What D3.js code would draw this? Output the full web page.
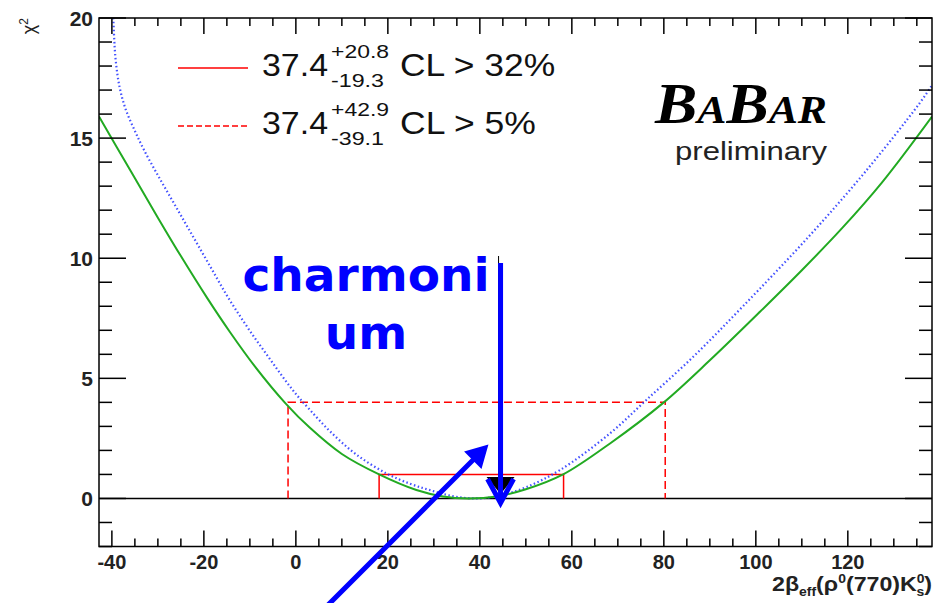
<!DOCTYPE html>
<html>
<head>
<meta charset="utf-8">
<script src="https://cdn.jsdelivr.net/npm/d3@7"></script>
<style>
  body { margin: 0; background: #fff; }
  svg { display: block; }
</style>
</head>
<body>
<div id="chart"></div>
<script>
// chi2 scan curves
const greenX = [-42.8, -36, -30, -25, -19.3, -14.3, -9, -2.2, 3, 10, 18.1, 26.2, 32, 37.4, 43.6, 50, 58.1, 68.3, 80, 90, 100.9, 110, 118.7, 127.4, 138.3]
const greenY = [15.9, 13.66, 11.69, 10.09, 8.35, 6.92, 5.52, 3.95, 2.95, 1.85, 1.0, 0.35, 0.08, 0, 0.08, 0.38, 1.0, 2.29, 4.0, 5.75, 7.77, 9.5, 11.24, 13.15, 15.9]
const blueX = [-40.1, -39.7, -39.2, -38.3, -37, -35, -33, -30, -27, -24, -21, -18, -15, -12, -9, -6, -3, 0, 3, 7.4, 13, 19.7, 25, 29.1, 34, 39, 44, 50.2, 57.4, 68.3, 76.2, 86.4, 97.2, 111.5, 123.8, 135.4, 138.3]
const blueY = [21.5, 20, 18.3, 17.1, 16.2, 15.3, 14.5, 13.45, 12.45, 11.45, 10.45, 9.45, 8.45, 7.55, 6.7, 5.9, 5.1, 4.35, 3.7, 2.8, 1.85, 1.04, 0.6, 0.35, 0.1, 0, 0.1, 0.48, 1.18, 2.71, 4.1, 5.9, 8.0, 10.9, 13.6, 16.4, 17.2]

// central value and intervals
const central = 37.4
const cl32 = { plus: 20.8, minus: 19.3, chi2: 1, label: "CL > 32%" }
const cl5 = { plus: 42.9, minus: 39.1, chi2: 4, label: "CL > 5%" }

const xMajor = [-40, -20, 0, 20, 40, 60, 80, 100, 120]
const yMajor = [0, 5, 10, 15, 20]

const width = 935, height = 603
const frame = { left: 99, right: 932, top: 18, bottom: 546.5 }
const sans = "'Liberation Sans', Arial, sans-serif"

const svg = d3.select("#chart").append("svg").attr("width", width).attr("height", height)
    .attr("font-family", sans)

const x = d3.scaleLinear().domain([-42.8, 138.3]).range([frame.left, frame.right])
const y = d3.scaleLinear().domain([-2, 20]).range([frame.bottom, frame.top])

svg.append("clipPath").attr("id", "clip").append("rect")
    .attr("x", frame.left).attr("y", frame.top)
    .attr("width", frame.right - frame.left).attr("height", frame.bottom - frame.top)

const plot = svg.append("g").attr("clip-path", "url(#clip)")

// zero line
plot.append("line")
    .attr("x1", frame.left).attr("x2", frame.right)
    .attr("y1", y(0)).attr("y2", y(0))
    .attr("stroke", "#000").attr("stroke-width", 1.5)

// interval boxes
function box(cl, dash) {
    var lo = central - cl.minus, hi = central + cl.plus
    plot.append("path")
        .attr("d", `M${x(lo)},${y(0)}V${y(cl.chi2)}H${x(hi)}V${y(0)}`)
        .attr("fill", "none").attr("stroke", "#ff0000").attr("stroke-width", 1.5)
        .attr("stroke-dasharray", dash)
}
box(cl5, "8,4")
box(cl32, null)

const line = d3.line().x(d => x(d[0])).y(d => y(d[1])).curve(d3.curveCatmullRom.alpha(0.5))

plot.append("path")
    .attr("d", line(blueX.map((v, i) => [v, blueY[i]])))
    .attr("fill", "none").attr("stroke", "#2233ff").attr("stroke-width", 2.2)
    .attr("stroke-dasharray", "1.5,2.5").attr("stroke-opacity", 0.85)

plot.append("path")
    .attr("d", line(greenX.map((v, i) => [v, greenY[i]])))
    .attr("fill", "none").attr("stroke", "#22aa22").attr("stroke-width", 2)

// axes (ticks on all four sides, pointing inwards)
const xMinor = d3.range(-40, 140, 5)
const yMinor = d3.range(-2, 21, 1)

const axes = svg.append("g").attr("stroke", "#000").attr("stroke-width", 1.5)
xMinor.forEach(v => {
    var len = xMajor.includes(v) ? 16 : 8
    axes.append("line").attr("x1", x(v)).attr("x2", x(v)).attr("y1", frame.bottom).attr("y2", frame.bottom - len)
    axes.append("line").attr("x1", x(v)).attr("x2", x(v)).attr("y1", frame.top).attr("y2", frame.top + len)
})
yMinor.forEach(v => {
    var len = yMajor.includes(v) ? 27 : 13
    axes.append("line").attr("y1", y(v)).attr("y2", y(v)).attr("x1", frame.left).attr("x2", frame.left + len)
    axes.append("line").attr("y1", y(v)).attr("y2", y(v)).attr("x1", frame.right).attr("x2", frame.right - len)
})
axes.append("rect")
    .attr("x", frame.left).attr("y", frame.top)
    .attr("width", frame.right - frame.left).attr("height", frame.bottom - frame.top)
    .attr("fill", "none")

svg.append("g").selectAll("text").data(xMajor).join("text")
    .attr("x", d => x(d)).attr("y", 569)
    .attr("text-anchor", "middle").attr("font-size", 20).attr("font-weight", "bold").attr("fill", "#222")
    .text(d => d)

svg.append("g").selectAll("text").data(yMajor).join("text")
    .attr("x", 93).attr("y", d => y(d) + 7.5)
    .attr("text-anchor", "end").attr("font-size", 21).attr("font-weight", "bold").attr("fill", "#222")
    .text(d => d)

// axis titles
const xt = svg.append("text").attr("x", 932).attr("y", 591)
    .attr("text-anchor", "end").attr("font-size", 20).attr("font-weight", "bold").attr("fill", "#222")
    .attr("textLength", 160).attr("lengthAdjust", "spacingAndGlyphs")
xt.append("tspan").text("2β")
xt.append("tspan").attr("dy", 5).attr("font-size", 12).text("eff")
xt.append("tspan").attr("dy", -5).text("(ρ")
xt.append("tspan").attr("dy", -8).attr("font-size", 12).text("0")
xt.append("tspan").attr("dy", 8).text("(770)K")
xt.append("tspan").attr("dy", -8).attr("font-size", 12).text("0")
xt.append("tspan").attr("dx", -7).attr("dy", 13).attr("font-size", 12).text("s")
xt.append("tspan").attr("dy", -5).text(")")

const yt = svg.append("text").attr("transform", "translate(35,18) rotate(-90)")
    .attr("text-anchor", "end").attr("font-size", 18).attr("fill", "#222")
yt.append("tspan").text("χ")
yt.append("tspan").attr("dy", -7).attr("font-size", 12).text("2")

// legend
function legendRow(cl, yb, dash) {
    svg.append("line").attr("x1", 178).attr("x2", 248).attr("y1", yb - 8).attr("y2", yb - 8)
        .attr("stroke", "#ff0000").attr("stroke-width", 1.5).attr("stroke-dasharray", dash)
    svg.append("text").attr("x", 262).attr("y", yb).attr("font-size", 32).attr("fill", "#111")
        .attr("textLength", 66).attr("lengthAdjust", "spacingAndGlyphs").text(central)
    svg.append("text").attr("x", 331).attr("y", yb - 18).attr("font-size", 19).attr("fill", "#111")
        .attr("textLength", 58).attr("lengthAdjust", "spacingAndGlyphs").text("+" + cl.plus)
    svg.append("text").attr("x", 331).attr("y", yb + 11).attr("font-size", 19).attr("fill", "#111")
        .attr("textLength", 53).attr("lengthAdjust", "spacingAndGlyphs").text("-" + cl.minus)
    svg.append("text").attr("x", 400).attr("y", yb).attr("font-size", 32).attr("fill", "#111")
        .attr("textLength", cl.label.length * 19.4).attr("lengthAdjust", "spacingAndGlyphs").text(cl.label)
}
legendRow(cl32, 76, null)
legendRow(cl5, 134, "6,3")

// BaBar logo
const logo = svg.append("text").attr("x", 655).attr("y", 123)
    .attr("font-family", "'Liberation Serif', 'Times New Roman', serif")
    .attr("font-weight", "bold").attr("font-style", "italic").attr("fill", "#000")
    .attr("textLength", 172).attr("lengthAdjust", "spacingAndGlyphs")
logo.append("tspan").attr("font-size", 58).text("B")
logo.append("tspan").attr("font-size", 40).text("A")
logo.append("tspan").attr("font-size", 58).text("B")
logo.append("tspan").attr("font-size", 40).text("AR")
svg.append("text").attr("x", 675).attr("y", 160).attr("font-size", 25).attr("fill", "#222")
    .attr("textLength", 152).attr("lengthAdjust", "spacingAndGlyphs").text("preliminary")

// charmonium annotation
const charmX = 44.5
svg.append("line").attr("x1", x(charmX) - 2).attr("x2", x(charmX) - 2).attr("y1", 256).attr("y2", 480)
    .attr("stroke", "#000").attr("stroke-width", 1)
svg.append("path")
    .attr("d", `M${x(charmX) - 14},477L${x(charmX) + 14},477L${x(charmX)},494Z`)
    .attr("fill", "#000")
svg.append("line").attr("x1", x(charmX)).attr("x2", x(charmX)).attr("y1", 263).attr("y2", 500)
    .attr("stroke", "#0000ff").attr("stroke-width", 5)
svg.append("path")
    .attr("d", `M${x(charmX) - 13},479L${x(charmX)},503L${x(charmX) + 13},479`)
    .attr("fill", "none").attr("stroke", "#0000ff").attr("stroke-width", 5).attr("stroke-linejoin", "miter")

// diagonal arrow
svg.append("line").attr("x1", 322).attr("y1", 611).attr("x2", 476).attr("y2", 457)
    .attr("stroke", "#0000ff").attr("stroke-width", 5)
svg.append("path").attr("d", "M487,446L466,452L481,467Z").attr("fill", "#0000ff")
    .attr("stroke", "#0000ff").attr("stroke-width", 2)

const ct = svg.append("g").attr("font-family", "'DejaVu Sans', sans-serif").attr("font-weight", "bold")
    .attr("font-size", 47).attr("fill", "#0000ff").attr("text-anchor", "middle")
ct.append("text").attr("x", 366).attr("y", 291).text("charmoni")
ct.append("text").attr("x", 366).attr("y", 349).text("um")
</script>
</body>
</html>
